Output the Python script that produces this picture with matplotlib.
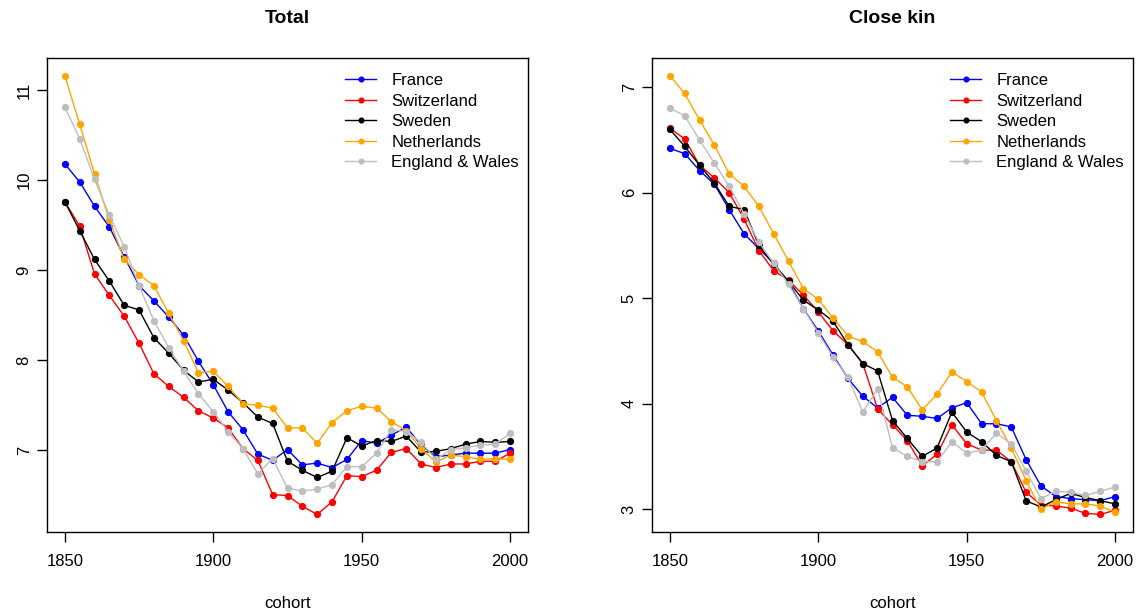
import numpy as np
import matplotlib
matplotlib.use("Agg")
import matplotlib.pyplot as plt

plt.rcParams['font.family'] = ['Liberation Sans', 'DejaVu Sans']

cohort = np.arange(1850, 2001, 5)
countries = ['France', 'Switzerland', 'Sweden', 'Netherlands', 'England & Wales']
colors = ['blue', 'red', 'black', 'orange', '#BEBEBE']

# Total
total_france = [10.18, 9.98, 9.71, 9.48, 9.15, 8.83, 8.66, 8.48, 8.28, 7.99, 7.73, 7.43, 7.23, 6.96, 6.89, 7.01,
                6.84, 6.86, 6.81, 6.90, 7.11, 7.08, 7.17, 7.26, 7.06, 6.93, 6.95, 6.97, 6.97, 6.97, 7.01]
total_switzerland = [9.76, 9.49, 8.96, 8.72, 8.49, 8.19, 7.85, 7.71, 7.59, 7.44, 7.36, 7.25, 7.02, 6.89, 6.51, 6.50,
                     6.38, 6.29, 6.43, 6.72, 6.71, 6.78, 6.98, 7.02, 6.85, 6.81, 6.85, 6.85, 6.88, 6.88, 6.97]
total_sweden = [9.76, 9.44, 9.12, 8.88, 8.61, 8.56, 8.25, 8.08, 7.89, 7.76, 7.79, 7.67, 7.53, 7.37, 7.30, 6.88,
                6.78, 6.70, 6.77, 7.14, 7.05, 7.11, 7.10, 7.16, 6.98, 6.99, 7.02, 7.07, 7.10, 7.09, 7.10]
total_netherlands = [11.16, 10.62, 10.07, 9.56, 9.12, 8.95, 8.83, 8.52, 8.22, 7.86, 7.88, 7.71, 7.52, 7.50, 7.47, 7.25,
                     7.25, 7.08, 7.31, 7.44, 7.49, 7.47, 7.32, 7.22, 7.02, 6.87, 6.95, 6.93, 6.90, 6.91, 6.90]
total_england = [10.81, 10.46, 10.01, 9.61, 9.26, 8.83, 8.44, 8.14, 7.88, 7.63, 7.43, 7.21, 7.02, 6.74, 6.91, 6.58,
                 6.55, 6.57, 6.62, 6.82, 6.82, 6.97, 7.23, 7.21, 7.09, 6.90, 7.01, 7.03, 7.06, 7.07, 7.19]

# Close kin
close_france = [6.42, 6.37, 6.21, 6.08, 5.84, 5.61, 5.47, 5.33, 5.15, 4.90, 4.69, 4.46, 4.24, 4.07, 3.96, 4.06,
                3.89, 3.88, 3.86, 3.96, 4.01, 3.81, 3.81, 3.78, 3.47, 3.22, 3.12, 3.10, 3.09, 3.08, 3.12]
close_switzerland = [6.61, 6.51, 6.26, 6.14, 6.00, 5.75, 5.45, 5.26, 5.17, 5.03, 4.87, 4.69, 4.56, 4.38, 3.95, 3.80,
                     3.65, 3.41, 3.52, 3.80, 3.62, 3.56, 3.56, 3.45, 3.16, 3.04, 3.03, 3.01, 2.96, 2.95, 2.99]
close_sweden = [6.60, 6.44, 6.26, 6.09, 5.87, 5.84, 5.50, 5.32, 5.16, 4.98, 4.89, 4.78, 4.56, 4.38, 4.31, 3.84,
                3.67, 3.50, 3.58, 3.92, 3.73, 3.64, 3.51, 3.45, 3.08, 3.02, 3.09, 3.15, 3.11, 3.08, 3.05]
close_netherlands = [7.11, 6.94, 6.69, 6.45, 6.18, 6.06, 5.87, 5.61, 5.35, 5.09, 4.99, 4.81, 4.64, 4.59, 4.49, 4.25,
                     4.16, 3.94, 4.09, 4.30, 4.21, 4.11, 3.84, 3.58, 3.27, 3.00, 3.07, 3.05, 3.05, 3.03, 2.97]
close_england = [6.80, 6.73, 6.50, 6.28, 6.06, 5.80, 5.53, 5.33, 5.13, 4.90, 4.67, 4.44, 4.25, 3.92, 4.14, 3.58,
                 3.50, 3.45, 3.45, 3.64, 3.53, 3.56, 3.72, 3.62, 3.36, 3.10, 3.17, 3.16, 3.13, 3.17, 3.21]

total = [total_france, total_switzerland, total_sweden, total_netherlands, total_england]
close = [close_france, close_switzerland, close_sweden, close_netherlands, close_england]


def panel(ax, series, title, yticks):
    for vals, c, name in zip(series, colors, countries):
        ax.plot(cohort, vals, color=c, lw=1, marker='o', ms=4.2, label=name)
    ax.margins(0.04)
    ax.set_title(title, fontsize=14, fontweight='bold', pad=25)
    ax.set_xticks([1850, 1900, 1950, 2000])
    ax.set_yticks(yticks)
    ax.tick_params(length=7, width=1, labelsize=12)
    ax.tick_params(axis='x', pad=9)
    ax.tick_params(axis='y', pad=4)
    for lab in ax.get_yticklabels():
        lab.set_rotation(90)
        lab.set_va('center')
    ax.set_xlabel('cohort', fontsize=12, labelpad=19)
    for s in ax.spines.values():
        s.set_linewidth(1)
    ax.legend(loc='upper left', bbox_to_anchor=(0.605, 0.982), frameon=False, fontsize=12,
              handlelength=1.9, handletextpad=0.9, labelspacing=0.33, markerscale=0.8,
              borderaxespad=0)


fig = plt.figure(figsize=(11.37, 6.13), dpi=100)
ax1 = fig.add_axes([47 / 1137, 1 - 532 / 613, 481 / 1137, 474 / 613])
ax2 = fig.add_axes([652 / 1137, 1 - 532 / 613, 481 / 1137, 474 / 613])
panel(ax1, total, 'Total', [7, 8, 9, 10, 11])
panel(ax2, close, 'Close kin', [3, 4, 5, 6, 7])

fig.savefig('out.png', dpi=100)
